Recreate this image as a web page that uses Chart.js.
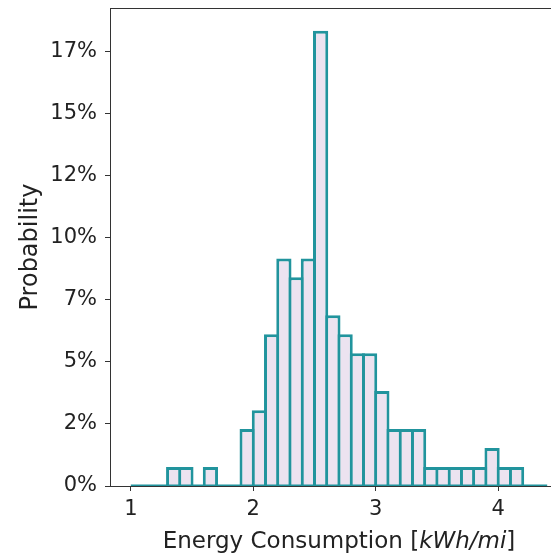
<!DOCTYPE html>
<html>
<head>
<meta charset="utf-8">
<title>Energy Consumption Histogram</title>
<script src="https://cdn.jsdelivr.net/npm/chart.js@4/dist/chart.umd.min.js"></script>
<style>
    html, body {
        margin: 0;
        padding: 0;
        background: #fff;
        overflow: hidden;
    }
    #histChart {
        display: block;
    }
</style>
</head>
<body>
<canvas id="histChart" width="575" height="554"></canvas>
<script>

/* ====================================
   DATA
==================================== */

const binLefts = [
    1.0, 1.1, 1.2, 1.3, 1.4, 1.5, 1.6, 1.7, 1.8, 1.9,
    2.0, 2.1, 2.2, 2.3, 2.4, 2.5, 2.6, 2.7, 2.8, 2.9,
    3.0, 3.1, 3.2, 3.3, 3.4, 3.5, 3.6, 3.7, 3.8, 3.9,
    4.0, 4.1, 4.2, 4.3
];

const binWidth = 0.1;

// percent of trips in each bin
const probability = [
    0, 0, 0, 0.76, 0.76, 0, 0.76, 0, 0, 2.29,
    3.05, 6.11, 9.16, 8.40, 9.16, 18.32, 6.87, 6.11, 5.34, 5.34,
    3.82, 2.29, 2.29, 2.29, 0.76, 0.76, 0.76, 0.76, 0.76, 1.53,
    0.76, 0.76, 0, 0
];

const xTicks = [1, 2, 3, 4];
const xTickLabels = ["1", "2", "3", "4"];

const yTicks = [0, 2.5, 5, 7.5, 10, 12.5, 15, 17.5];
const yTickLabels = ["0%", "2%", "5%", "7%", "10%", "12%", "15%", "17%"];

/* ====================================
   STYLE
==================================== */

const EDGE = "#21949d";
const FILL = "#ece3f0";
const INK = "#222222";
const AXIS = "#333333";
const FONT = "DejaVu Sans";

document.addEventListener("DOMContentLoaded", () => {

    createHistogram();

});

/* ====================================
   X TITLE (mixed upright / italic)
==================================== */

const xTitlePlugin = {

    id: "xTitle",

    afterDraw(chart) {

        const ctx = chart.ctx;
        const area = chart.chartArea;

        const parts = [
            { text: "Energy Consumption [", font: "23px '" + FONT + "'" },
            { text: "kWh/mi", font: "italic 23px '" + FONT + "'" },
            { text: "]", font: "23px '" + FONT + "'" }
        ];

        ctx.save();
        ctx.fillStyle = INK;
        ctx.textBaseline = "alphabetic";
        ctx.textAlign = "left";

        let total = 0;
        parts.forEach(p => {
            ctx.font = p.font;
            p.w = ctx.measureText(p.text).width;
            total += p.w;
        });

        let x = (area.left + area.right) / 2 - total / 2;
        const y = chart.scales.x.bottom - 6;

        parts.forEach(p => {
            ctx.font = p.font;
            ctx.fillText(p.text, x, y);
            x += p.w;
        });

        ctx.restore();

    }

};

/* ====================================
   HISTOGRAM
==================================== */

function createHistogram() {

    const canvas = document.getElementById("histChart");

    if (!canvas) return;

    const bars = binLefts.map((left, i) => ({
        x: left + binWidth / 2,
        y: probability[i]
    }));

    const lastRight = binLefts[binLefts.length - 1] + binWidth;

    new Chart(canvas, {

        type: "bar",

        data: {

            datasets: [
                {
                    type: "line",
                    data: [
                        { x: binLefts[0], y: 0 },
                        { x: lastRight, y: 0 }
                    ],
                    borderColor: EDGE,
                    borderWidth: 3,
                    pointRadius: 0,
                    order: 0
                },
                {
                    type: "bar",
                    data: bars,
                    backgroundColor: FILL,
                    borderColor: EDGE,
                    borderWidth: 3,
                    borderSkipped: "start",
                    categoryPercentage: 1,
                    barPercentage: 1.245,
                    order: 1
                }
            ]

        },

        options: {

            responsive: false,
            animation: false,
            devicePixelRatio: 1,

            layout: {
                padding: { left: 0, top: 8, right: 7, bottom: 0 }
            },

            plugins: {
                legend: { display: false },
                tooltip: { enabled: false }
            },

            scales: {

                x: {
                    type: "linear",
                    position: "bottom",
                    min: 0.83,
                    max: 4.57,
                    offset: false,
                    z: 1,
                    grid: {
                        display: true,
                        offset: false,
                        drawOnChartArea: false,
                        drawTicks: true,
                        tickLength: 5,
                        color: AXIS,
                        lineWidth: 1
                    },
                    border: { display: true, color: AXIS, width: 1 },
                    ticks: {
                        color: INK,
                        font: { family: FONT, size: 21 },
                        padding: 6,
                        maxRotation: 0,
                        callback: (value, index) => xTickLabels[index]
                    },
                    afterBuildTicks: scale => {
                        scale.ticks = xTicks.map(v => ({ value: v }));
                    },
                    afterFit: scale => {
                        scale.height = 68;
                        scale.paddingLeft = 0;
                        scale.paddingRight = 0;
                    }
                },

                xTop: {
                    type: "linear",
                    position: "top",
                    display: true,
                    z: 1,
                    grid: { display: false },
                    border: { display: true, color: AXIS, width: 1 },
                    ticks: { display: false },
                    afterFit: scale => {
                        scale.height = 0;
                        scale.paddingLeft = 0;
                        scale.paddingRight = 0;
                    }
                },

                y: {
                    type: "linear",
                    min: 0,
                    max: 19.24,
                    z: 1,
                    grid: {
                        display: true,
                        drawOnChartArea: false,
                        drawTicks: true,
                        tickLength: 5,
                        color: AXIS,
                        lineWidth: 1
                    },
                    border: { display: true, color: AXIS, width: 1 },
                    ticks: {
                        color: INK,
                        font: { family: FONT, size: 21 },
                        padding: 8,
                        callback: (value, index) => yTickLabels[index]
                    },
                    title: {
                        display: true,
                        text: "Probability",
                        color: INK,
                        font: { family: FONT, size: 24 },
                        padding: { top: 16, bottom: 0 }
                    },
                    afterBuildTicks: scale => {
                        scale.ticks = yTicks.map(v => ({ value: v }));
                    },
                    afterFit: scale => {
                        scale.width = 110;
                        scale.paddingTop = 0;
                        scale.paddingBottom = 0;
                    }
                }

            }

        },

        plugins: [xTitlePlugin]

    });

}

</script>
</body>
</html>
